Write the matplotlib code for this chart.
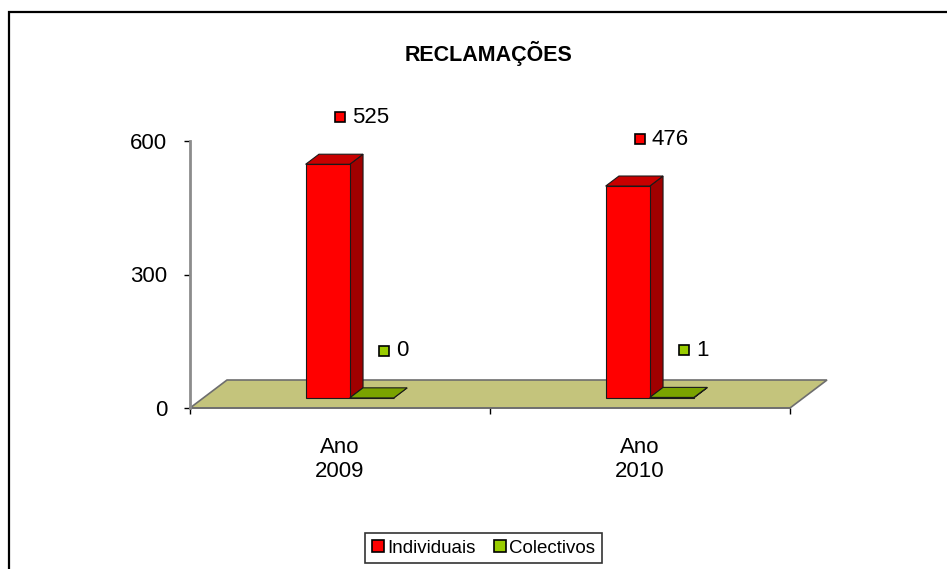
import matplotlib
matplotlib.use("Agg")
import matplotlib.pyplot as plt
from matplotlib import font_manager
from matplotlib.patches import Polygon, Rectangle
from matplotlib.lines import Line2D
import matplotlib.transforms as mtransforms

# ---- data ----
categories = ["Ano\n2009", "Ano\n2010"]
series_names = ["Individuais", "Colectivos"]
individuais = [525, 476]
colectivos = [0, 1]
y_ticks = [0, 300, 600]
title = "RECLAMAÇÕES"

# ---- fonts ----
names = {f.name for f in font_manager.fontManager.ttflist}
narrow = "Liberation Sans Narrow" if "Liberation Sans Narrow" in names else "Liberation Sans"
regular = "Liberation Sans"

W, H = 947, 569
fig = plt.figure(figsize=(W / 100, H / 100), dpi=100)
fig.patch.set_facecolor("white")

# outer border (left/top visible, rest runs off the image)
fig.patches.append(Rectangle((9 / W, -0.05), 1.1, (H - 12) / H + 0.05,
                             transform=fig.transFigure, fill=False,
                             edgecolor="black", lw=1.6))

ax = fig.add_axes([190 / W, (H - 408) / H, 600 / W, 267 / H])
ax.set_xlim(0, 2)
ax.set_ylim(0, 600)
ax.set_facecolor("none")

# depth vector of the 3D floor (data units)
DX, DY = 37 / 300, 28 * 600 / 267
d0, d1 = 0.36, 0.72
bar_w = 0.147
shift = -0.012

# floor
floor = Polygon([(0, 0), (2, 0), (2 + DX, DY), (0 + DX, DY)], closed=True,
                facecolor="#C4C47C", edgecolor="#6E6E6E", lw=1.2, zorder=1,
                clip_on=False)
ax.add_patch(floor)


def box(x0, h, front, side, top):
    x1 = x0 + bar_w
    fx0, fx1, fy = x0 + d0 * DX, x1 + d0 * DX, d0 * DY
    bx0, bx1, by = x0 + d1 * DX, x1 + d1 * DX, d1 * DY
    polys = [
        ([(fx1, fy), (bx1, by), (bx1, by + h), (fx1, fy + h)], side),
        ([(fx0, fy + h), (fx1, fy + h), (bx1, by + h), (bx0, by + h)], top),
        ([(fx0, fy), (fx1, fy), (fx1, fy + h), (fx0, fy + h)], front),
    ]
    for pts, c in polys:
        ax.add_patch(Polygon(pts, closed=True, facecolor=c, edgecolor="#1a1a1a",
                             lw=0.8, zorder=3, clip_on=False))
    return (fx0 + fx1) / 2, fy + h


label_kw = dict(fontsize=16, family=narrow, color="black", va="center", ha="left")


def data_label(xc, ytop, val, color):
    mt = mtransforms.offset_copy(ax.transData, fig=fig, x=12, y=47, units="dots")
    ax.plot([xc], [ytop], marker="s", markersize=7, markerfacecolor=color,
            markeredgecolor="black", markeredgewidth=1.2, transform=mt,
            clip_on=False, zorder=5)
    tt = mtransforms.offset_copy(ax.transData, fig=fig, x=24, y=47, units="dots")
    ax.text(xc, ytop, str(val), transform=tt, clip_on=False, **label_kw)


centers = [0.5, 1.5]
for i, c in enumerate(centers):
    xr = c - bar_w + shift
    xc, yt = box(xr, individuais[i], "#FF0000", "#A00000", "#C80000")
    data_label(xc, yt, individuais[i], "#FF0000")
    xg = c + shift
    xc2, yt2 = box(xg, colectivos[i], "#99CC00", "#6E9200", "#7AA300")
    data_label(xc2, yt2, colectivos[i], "#99CC00")

# axes styling
for s in ["top", "right"]:
    ax.spines[s].set_visible(False)
ax.spines["left"].set_color("#8C8C8C")
ax.spines["left"].set_linewidth(2)
ax.spines["bottom"].set_color("#6E6E6E")
ax.spines["bottom"].set_linewidth(1.2)
ax.spines["bottom"].set_zorder(2)

ax.set_yticks(y_ticks)
ax.set_yticklabels([str(v) for v in y_ticks], fontsize=16, family=narrow)
ax.tick_params(axis="y", direction="out", length=4.5, width=1, color="black", pad=12)
ax.set_xticks([0, 1, 2])
ax.set_xticklabels(["", "", ""])
ax.tick_params(axis="x", which="major", direction="out", length=4.5, width=1, color="black")
ax.set_xticks(centers, minor=True)
ax.set_xticklabels(categories, minor=True, fontsize=16, family=narrow, linespacing=1.15)
ax.tick_params(axis="x", which="minor", length=0, pad=21)

fig.text(488 / W, (H - 53) / H, title, ha="center", va="center",
         fontsize=15.5, fontweight="bold", family=regular)

handles = [Line2D([], [], linestyle="none", marker="s", markersize=8,
                  markerfacecolor=col, markeredgecolor="black", markeredgewidth=1.2)
           for col in ["#FF0000", "#99CC00"]]
leg = fig.legend(handles, series_names, loc="center", bbox_to_anchor=(483.5 / W, (H - 548) / H),
                 ncol=2, frameon=True, fancybox=False, edgecolor="black",
                 prop={"family": narrow, "size": 13.5}, handlelength=0.6, handletextpad=0.2,
                 columnspacing=1.0, borderpad=0.35, borderaxespad=0)
leg.get_frame().set_linewidth(1.2)

fig.savefig("out.png", dpi=100, facecolor="white")
